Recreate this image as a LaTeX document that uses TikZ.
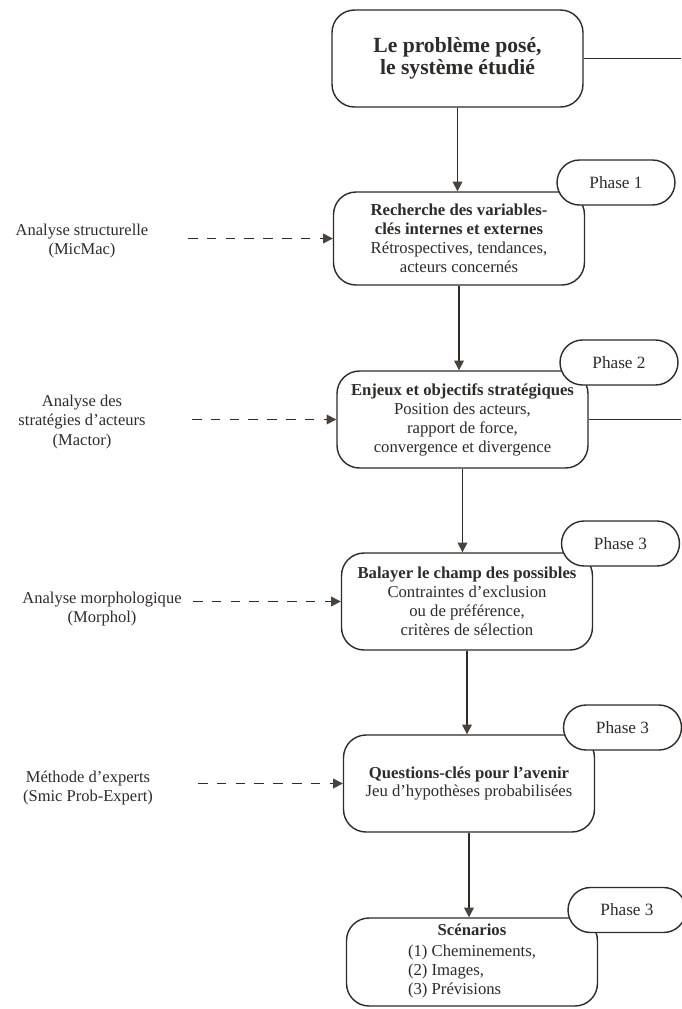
\documentclass[tikz,border=0pt]{standalone}
\usepackage{fontspec}
\setmainfont{Liberation Serif}
\usepackage{xcolor}
\usepackage{tikz}
\usetikzlibrary{arrows.meta}

\definecolor{ink}{HTML}{2E2B29}
\definecolor{tipgray}{HTML}{4A423D}

\tikzset{
  stepbox/.style={draw=ink, line width=0.8pt, rounded corners=0.45cm, fill=white,
    align=center, inner sep=0pt, text=ink, minimum width=5.02cm,
    font=\fontsize{9.5}{10.8}\selectfont},
  phasebox/.style={draw=ink, line width=0.8pt, rounded corners=0.45cm, fill=white,
    inner sep=0pt, text=ink, minimum width=2.36cm, minimum height=0.9cm,
    font=\fontsize{9.8}{11}\selectfont},
  methodlbl/.style={align=center, inner sep=0pt, text=ink,
    font=\fontsize{9.4}{10.9}\selectfont},
  flowarrow/.style={draw=ink, line width=0.8pt,
    -{Triangle[length=5.5pt,width=5.5pt,color=tipgray]}},
  dasharrow/.style={draw=ink, line width=0.8pt, dash pattern=on 5.5pt off 5.2pt,
    -{Triangle[length=5.5pt,width=5.5pt,color=tipgray]}}
}

\begin{document}
\begin{tikzpicture}[x=0.02cm, y=-0.02cm]
\useasboundingbox (0,0) rectangle (681,1009);

% Main steps
\node[stepbox, minimum height=1.94cm, font=\fontsize{12.3}{12.8}\selectfont\bfseries]
  (prob) at (457.5,58.5) {Le problème posé,\\le système étudié};
\node[stepbox, minimum height=1.86cm] (vars) at (459,238.5)
  {\textbf{Recherche des variables-}\\\textbf{clés internes et externes}\\
   Rétrospectives, tendances,\\acteurs concernés};
\node[stepbox, minimum height=1.94cm] (enjeux) at (462.5,419.5)
  {\textbf{Enjeux et objectifs stratégiques}\\Position des acteurs,\\
   rapport de force,\\convergence et divergence};
\node[stepbox, minimum height=1.94cm] (champ) at (467,601.5)
  {\textbf{Balayer le champ des possibles}\\Contraintes d’exclusion\\
   ou de préférence,\\critères de sélection};
\node[stepbox, minimum height=1.94cm] (quest) at (469,783.5)
  {\textbf{Questions-clés pour l’avenir}\\Jeu d’hypothèses probabilisées};
\node[stepbox, minimum height=1.76cm] (scen) at (472,962)
  {\textbf{Scénarios}\\[1pt]
   \begin{tabular}[t]{@{}l@{}}(1) Cheminements,\\(2) Images,\\(3) Prévisions\end{tabular}};

% Phase tags
\node[phasebox] (ph1) at (616,182.5) {Phase 1};
\node[phasebox] (ph2) at (619,362.5) {Phase 2};
\node[phasebox] (ph3) at (620.5,543.5) {Phase 3};
\node[phasebox] (ph4) at (622.5,727.5) {Phase 3};
\node[phasebox] (ph5) at (627,910) {Phase 3};

% Methods on the left
\node[methodlbl] (micmac) at (82,241) {Analyse structurelle\\(MicMac)};
\node[methodlbl] (mactor) at (82,422) {Analyse des\\stratégies d’acteurs\\(Mactor)};
\node[methodlbl] (morphol) at (102,609) {Analyse morphologique\\(Morphol)};
\node[methodlbl] (smic) at (88,788) {Méthode d’experts\\(Smic Prob-Expert)};

% Vertical flow
\draw[flowarrow] (prob.south) -- (prob.south |- vars.north);
\draw[flowarrow] (vars.south) -- (vars.south |- enjeux.north);
\draw[flowarrow] (enjeux.south) -- (enjeux.south |- champ.north);
\draw[flowarrow] (champ.south) -- (champ.south |- quest.north);
\draw[flowarrow] (quest.south) -- (quest.south |- scen.north);

% Dashed inputs
\coordinate (in1) at (188,238.5);
\coordinate (in2) at (192,419.5);
\coordinate (in3) at (193,601.5);
\coordinate (in4) at (198,783.5);
\draw[dasharrow] (in1) -- (vars.west);
\draw[dasharrow] (in2) -- (enjeux.west);
\draw[dasharrow] (in3) -- (champ.west);
\draw[dasharrow] (in4) -- (quest.west);

% Lines leaving to the right
\coordinate (out1) at (681,58.5);
\coordinate (out2) at (681,419.5);
\draw[draw=ink, line width=0.8pt] (prob.east) -- (out1);
\draw[draw=ink, line width=0.8pt] (enjeux.east) -- (out2);
\end{tikzpicture}
\end{document}
